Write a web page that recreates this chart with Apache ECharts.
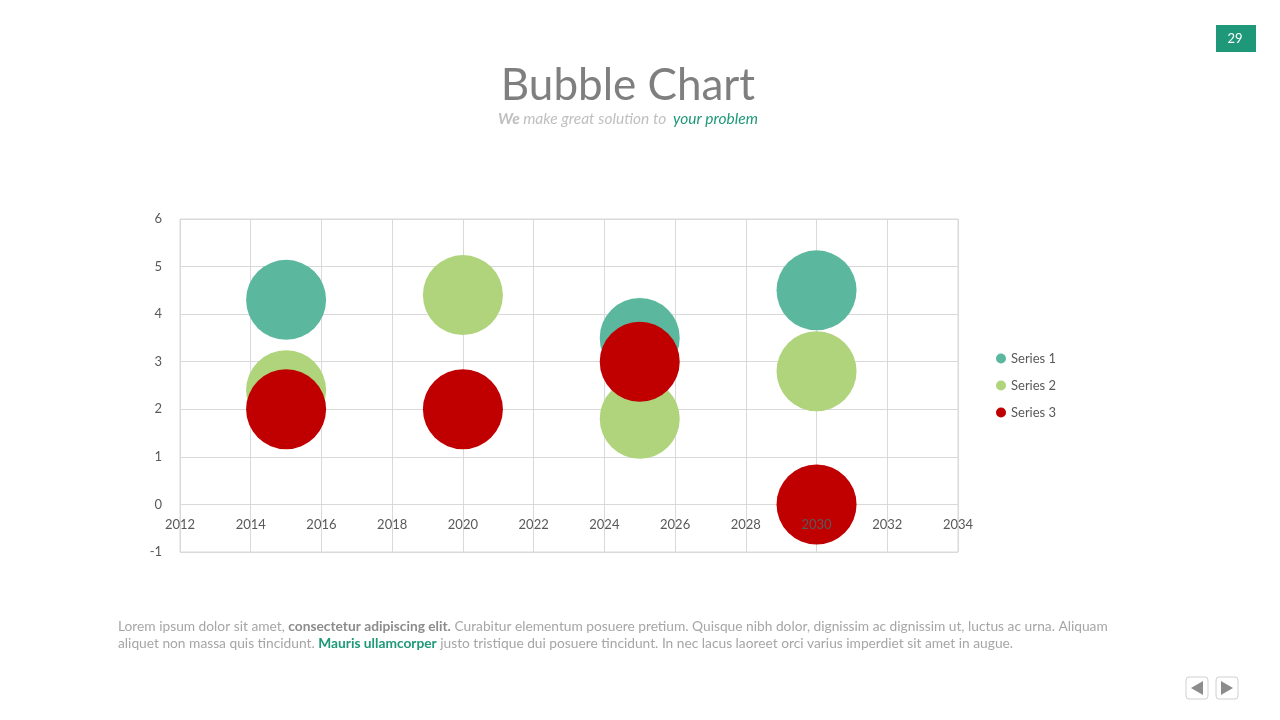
<!DOCTYPE html>
<html>
<head>
<meta charset="utf-8">
<title>Bubble Chart</title>
<script src="https://cdn.jsdelivr.net/npm/echarts@6/dist/echarts.min.js"></script>
<style>
  html, body { margin: 0; padding: 0; background: #fff; }
  #main { width: 1280px; height: 720px; }
</style>
</head>
<body>
<div id="main"></div>
<script>
// data
const seriesNames = ["Series 1", "Series 2", "Series 3"];
const colors = ["#5bb89e", "#afd47c", "#c00000"];
const years1 = [2015, 2025, 2030];
const values1 = [4.3, 3.5, 4.5];
const years2 = [2015, 2020, 2025, 2030];
const values2 = [2.4, 4.4, 1.8, 2.8];
const years3 = [2015, 2020, 2025, 2030];
const values3 = [2, 2, 3, 0];
const bubbleSize = 80;

const xMin = 2012, xMax = 2034, xStep = 2;
const yMin = -1, yMax = 6, yStep = 1;

const font = "Lato, 'Open Sans', sans-serif";
const gray = "#595959";

const gridTop = 219, gridBottom = 168;
const gridHeight = 720 - gridTop - gridBottom;
// year labels sit on the y = 0 line, as in the original
const labelOffset = -(0 - yMin) / (yMax - yMin) * gridHeight;

function pairs(xs, ys) {
  return xs.map(function (x, i) { return [x, ys[i]]; });
}

const chart = echarts.init(document.getElementById("main"));

const option = {
  backgroundColor: "#ffffff",
  animation: false,
  legend: {
    orient: "vertical",
    left: 991,
    top: 347,
    icon: "circle",
    itemWidth: 10,
    itemHeight: 10,
    itemGap: 14,
    data: seriesNames,
    textStyle: { fontFamily: font, fontSize: 13, color: gray }
  },
  grid: {
    left: 180,
    right: 322,
    top: gridTop,
    bottom: gridBottom,
    show: true,
    borderColor: "#d9d9d9",
    borderWidth: 1
  },
  xAxis: [{
    type: "value",
    min: xMin,
    max: xMax,
    interval: xStep,
    position: "bottom",
    offset: labelOffset,
    z: 5,
    axisLine: { show: false, onZero: false },
    axisTick: { show: false },
    splitLine: { show: false },
    axisLabel: {
      fontFamily: font, fontSize: 13, color: gray, margin: 14,
      formatter: function (v) { return String(v); }
    }
  }, {
    // vertical grid lines only, drawn under the bubbles
    type: "value",
    min: xMin,
    max: xMax,
    interval: xStep,
    position: "bottom",
    z: 0,
    axisLine: { show: false, onZero: false },
    axisTick: { show: false },
    axisLabel: { show: false },
    splitLine: { lineStyle: { color: "#d9d9d9" } }
  }],
  yAxis: {
    type: "value",
    min: yMin,
    max: yMax,
    interval: yStep,
    axisLine: { show: false },
    axisTick: { show: false },
    splitLine: { lineStyle: { color: "#d9d9d9" } },
    axisLabel: { fontFamily: font, fontSize: 13, color: gray, margin: 18 }
  },
  series: [{
    name: seriesNames[0],
    type: "scatter",
    symbolSize: bubbleSize,
    itemStyle: { color: colors[0], opacity: 1 },
    data: pairs(years1, values1)
  }, {
    name: seriesNames[1],
    type: "scatter",
    symbolSize: bubbleSize,
    itemStyle: { color: colors[1], opacity: 1 },
    data: pairs(years2, values2)
  }, {
    name: seriesNames[2],
    type: "scatter",
    symbolSize: bubbleSize,
    itemStyle: { color: colors[2], opacity: 1 },
    data: pairs(years3, values3)
  }],
  graphic: [
    // title and tagline
    {
      type: "text",
      x: 628, y: 86,
      style: {
        text: "Bubble Chart", fill: "#7f7f7f", font: "44px " + font,
        align: "center", verticalAlign: "middle"
      }
    },
    {
      type: "text",
      x: 628, y: 119,
      style: {
        text: "{b|We} {n|make great solution to}  {g|your problem}",
        align: "center", verticalAlign: "middle",
        rich: {
          b: { fontFamily: font, fontSize: 15.5, fontStyle: "italic", fontWeight: "bold", fill: "#bfbfbf" },
          n: { fontFamily: font, fontSize: 15.5, fontStyle: "italic", fill: "#bfbfbf" },
          g: { fontFamily: font, fontSize: 15.5, fontStyle: "italic", fill: "#1e9878" }
        }
      }
    },
    // page number
    {
      type: "rect",
      shape: { x: 1216, y: 25, width: 40, height: 27 },
      style: { fill: "#1e9878" }
    },
    {
      type: "text",
      x: 1235, y: 39,
      style: { text: "29", fill: "#fff", font: "13px " + font, align: "center", verticalAlign: "middle" }
    },
    // footer paragraph
    {
      type: "text",
      x: 118, y: 618,
      style: {
        text: "{n|Lorem ipsum dolor sit amet, }{b|consectetur adipiscing elit.}{n| Curabitur elementum posuere pretium. Quisque nibh dolor, dignissim ac dignissim ut, luctus ac urna. Aliquam}\n" +
              "{n|aliquet non massa quis tincidunt. }{g|Mauris ullamcorper}{n| justo tristique dui posuere tincidunt. In nec lacus laoreet orci varius imperdiet sit amet in augue.}",
        rich: {
          n: { fontFamily: font, fontSize: 13.75, fill: "#a6a6a6", lineHeight: 17 },
          b: { fontFamily: font, fontSize: 13.75, fill: "#8c8c8c", fontWeight: "bold", lineHeight: 17 },
          g: { fontFamily: font, fontSize: 13.75, fill: "#1e9878", fontWeight: "bold", lineHeight: 17 }
        }
      }
    },
    // navigation buttons
    {
      type: "rect",
      shape: { x: 1186, y: 677, width: 22, height: 22, r: 3 },
      style: { fill: "#fff", stroke: "#d0d0d0", lineWidth: 1 }
    },
    {
      type: "polygon",
      shape: { points: [[1191, 688], [1203, 681], [1203, 695]] },
      style: { fill: "#8c8c8c" }
    },
    {
      type: "rect",
      shape: { x: 1216, y: 677, width: 22, height: 22, r: 3 },
      style: { fill: "#fff", stroke: "#d0d0d0", lineWidth: 1 }
    },
    {
      type: "polygon",
      shape: { points: [[1233, 688], [1221, 681], [1221, 695]] },
      style: { fill: "#8c8c8c" }
    }
  ]
};

chart.setOption(option);
</script>
</body>
</html>
